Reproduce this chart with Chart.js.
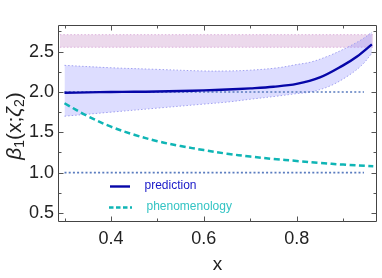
<!DOCTYPE html>
<html><head><meta charset="utf-8">
<script src="https://cdn.jsdelivr.net/npm/chart.js@4"></script>
<style>html,body{margin:0;padding:0;background:#fff}#wrap{width:382px;height:278px}</style>
</head><body><div id="wrap"><canvas id="c" width="382" height="278"></canvas></div>
<script>
const predX = [0.3,0.35,0.4,0.45,0.5,0.55,0.6,0.65,0.7,0.75,0.8,0.85,0.9,0.93,0.962];
const predY = [1.99,1.995,2.0,2.002,2.005,2.012,2.02,2.03,2.045,2.065,2.10,2.18,2.33,2.44,2.59];
const bandX = [0.3,0.4,0.5,0.6,0.65,0.7,0.76,0.8,0.83,0.87,0.908,0.94,0.962];
const bandHi = [2.33,2.30,2.28,2.26,2.26,2.27,2.30,2.34,2.37,2.45,2.55,2.65,2.74];
const bandLo = [1.70,1.75,1.80,1.85,1.875,1.91,1.95,1.98,2.00,2.07,2.19,2.33,2.48];
const phenX = [0.3,0.35,0.4,0.45,0.5,0.55,0.6,0.65,0.7,0.75,0.8,0.85,0.9,0.965];
const phenY = [1.86,1.70,1.57,1.47,1.39,1.33,1.28,1.235,1.20,1.17,1.145,1.12,1.10,1.08];
const expX = [0.29,0.965];
const expHi = [2.71,2.71];
const expLo = [2.555,2.555];
const refX = [0.3,0.945];
const refLevels = [2.0,1.0];
const xTicks = [0.4,0.6,0.8];
const xMinor = [0.3,0.5,0.7,0.9];
const yTicks = [0.5,1.0,1.5,2.0,2.5];
const yMinor = [0.75,1.25,1.75,2.25,2.75];
const legendLabels = ['prediction','phenomenology'];

const pts = (xs, ys) => xs.map((x,i)=>({x, y: ys[i]}));

// Chart.js draws lower-index datasets on top, so the layers go top → bottom here
const datasets = [
  {data: pts(predX, predY), borderColor:'#0606a8', borderWidth:2.4, fill:false, pointRadius:0, tension:0.35},
  {data: pts(phenX, phenY), borderColor:'#0fb5b5', borderWidth:2.5, borderDash:[6,3.5], fill:false, pointRadius:0, tension:0.35},
  ...refLevels.map(v => ({data: pts(refX, refX.map(()=>v)), borderColor:'#5a7cbf', borderWidth:1.6, borderDash:[2,2.2], fill:false, pointRadius:0})),
  {data: pts(bandX, bandHi), borderColor:'#a0a0f0', borderWidth:1, borderDash:[1.5,2], fill:false, pointRadius:0, tension:0.35},
  {data: pts(bandX, bandLo), borderColor:'#a0a0f0', borderWidth:1, borderDash:[1.5,2], fill:false, pointRadius:0, tension:0.35},
  {data: pts(bandX, bandHi), borderWidth:0, borderColor:'rgba(0,0,0,0)', backgroundColor:'rgba(120,120,255,0.25)', fill:'+1', pointRadius:0, tension:0.35},
  {data: pts(bandX, bandLo), borderWidth:0, borderColor:'rgba(0,0,0,0)', fill:false, pointRadius:0, tension:0.35},
  {data: pts(expX, expHi), borderColor:'#dcb0dc', borderWidth:1, borderDash:[1.5,2], fill:false, pointRadius:0, tension:0},
  {data: pts(expX, expLo), borderColor:'#dcb0dc', borderWidth:1, borderDash:[1.5,2], fill:false, pointRadius:0, tension:0},
  {data: pts(expX, expHi), borderWidth:0, borderColor:'rgba(0,0,0,0)', backgroundColor:'rgba(226,196,226,0.65)', fill:'+1', pointRadius:0, tension:0},
  {data: pts(expX, expLo), borderWidth:0, borderColor:'rgba(0,0,0,0)', fill:false, pointRadius:0, tension:0}
];

const framePlugin = {
  id:'frame',
  afterDatasetsDraw(chart){
    const {ctx, chartArea:a, scales:{x, y}} = chart;
    ctx.save();
    ctx.strokeStyle = '#444'; ctx.lineWidth = 1;
    ctx.beginPath();
    const L = Math.round(a.left)+0.5, R = Math.round(a.right)-0.5, T = Math.round(a.top)+0.5, B = Math.round(a.bottom)-0.5;
    ctx.rect(L, T, R-L, B-T); ctx.stroke();
    ctx.strokeStyle = '#555';
    ctx.beginPath();
    const tx = (v, len) => { const p = Math.round(x.getPixelForValue(v))+0.5; ctx.moveTo(p,B); ctx.lineTo(p,B-len); ctx.moveTo(p,T); ctx.lineTo(p,T+len); };
    const ty = (v, len) => { const p = Math.round(y.getPixelForValue(v))+0.5; ctx.moveTo(L,p); ctx.lineTo(L+len,p); ctx.moveTo(R,p); ctx.lineTo(R-len,p); };
    xTicks.forEach(v=>tx(v,5)); xMinor.forEach(v=>tx(v,3));
    yTicks.forEach(v=>ty(v,5)); yMinor.forEach(v=>ty(v,3));
    ctx.stroke();
    // legend
    ctx.lineWidth = 2.4; ctx.strokeStyle = '#0606a8'; ctx.setLineDash([]);
    ctx.beginPath(); ctx.moveTo(110,186.5); ctx.lineTo(130,186.5); ctx.stroke();
    ctx.lineWidth = 2.5; ctx.strokeStyle = '#0fb5b5'; ctx.setLineDash([4.5,2.5]);
    ctx.beginPath(); ctx.moveTo(109,207.5); ctx.lineTo(132,207.5); ctx.stroke();
    ctx.setLineDash([]);
    ctx.font = '12px "Liberation Sans", Arial, sans-serif';
    ctx.textBaseline = 'middle'; ctx.textAlign = 'left';
    ctx.fillStyle = '#1818c8'; ctx.fillText(legendLabels[0], 144.5, 186);
    ctx.fillStyle = '#33c4c4'; ctx.fillText(legendLabels[1], 146.5, 207);
    // axis titles
    ctx.fillStyle = '#222';
    ctx.font = '19px "Liberation Sans", Arial, sans-serif';
    ctx.textAlign = 'center'; ctx.textBaseline = 'middle';
    ctx.fillText('x', (a.left+a.right)/2, 265);
    // y title rotated with subscripts
    ctx.translate(15, 126);
    ctx.rotate(-Math.PI/2);
    const parts = [
      ['β','italic 21px "Liberation Sans", "DejaVu Sans", sans-serif',0],
      ['1','14px "Liberation Sans", Arial, sans-serif',5],
      ['(x;','21px "Liberation Sans", Arial, sans-serif',0],
      ['ζ','italic 21px "Liberation Sans", "DejaVu Sans", sans-serif',0],
      ['2','14px "Liberation Sans", Arial, sans-serif',5],
      [')','21px "Liberation Sans", Arial, sans-serif',0]
    ];
    let w = 0;
    parts.forEach(p=>{ctx.font=p[1]; w += ctx.measureText(p[0]).width;});
    let cx = -w/2;
    ctx.textAlign = 'left'; ctx.textBaseline = 'middle';
    parts.forEach(p=>{ctx.font=p[1]; ctx.fillText(p[0], cx, p[2]); cx += ctx.measureText(p[0]).width;});
    ctx.restore();
  }
};

new Chart(document.getElementById('c'), {
  type:'line',
  data:{datasets},
  options:{
    responsive:false, animation:false, devicePixelRatio:1,
    layout:{padding:{top:25, right:5, left:0, bottom:0}},
    plugins:{legend:{display:false}, tooltip:{enabled:false}},
    scales:{
      x:{type:'linear', min:0.286, max:0.973,
        afterBuildTicks(s){ s.ticks = xTicks.map(v=>({value:v})); },
        afterFit(s){ s.height = 55.7; },
        grid:{display:false, drawTicks:false}, border:{display:false},
        ticks:{padding:6, color:'#222', font:{family:'"Liberation Sans", Arial, sans-serif', size:18}, callback:v=>v.toFixed(1), maxRotation:0}
      },
      y:{type:'linear', min:0.385, max:2.83,
        afterBuildTicks(s){ s.ticks = yTicks.map(v=>({value:v})); },
        afterFit(s){ s.width = 58; },
        grid:{display:false, drawTicks:false}, border:{display:false},
        ticks:{padding:4, color:'#222', font:{family:'"Liberation Sans", Arial, sans-serif', size:18}, callback:v=>v.toFixed(1)}
      }
    }
  },
  plugins:[framePlugin]
});
</script>
</body></html>
